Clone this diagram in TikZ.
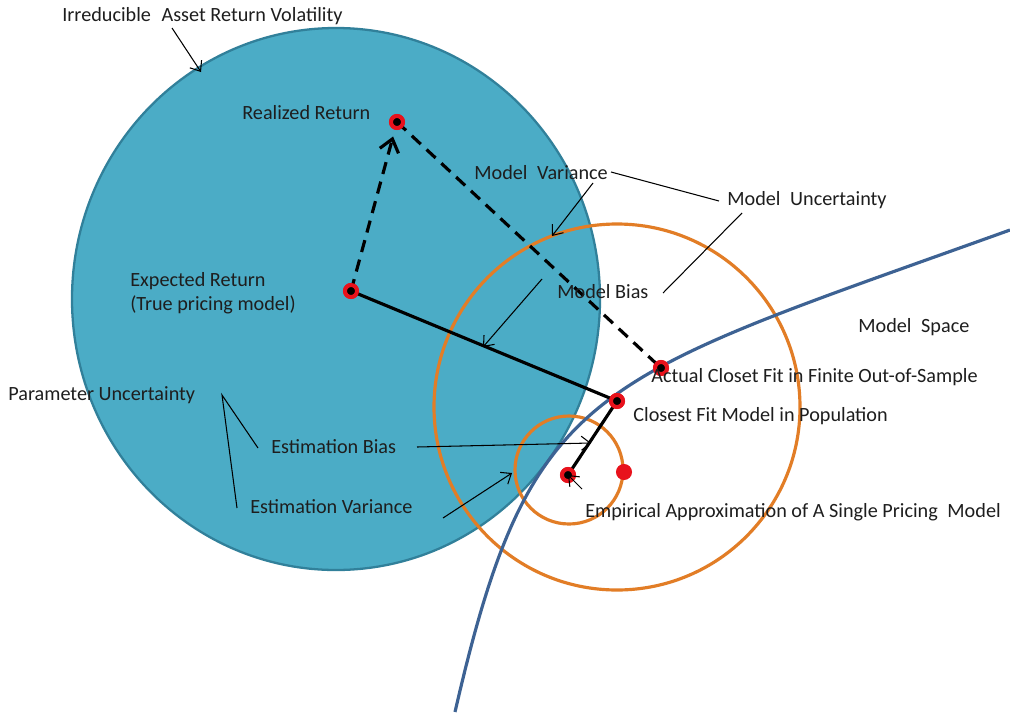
\documentclass[tikz,border=0pt]{standalone}
\usepackage{fontspec}
\setmainfont{Carlito}
\usetikzlibrary{arrows.meta}
\definecolor{aqua}{HTML}{4BACC6}
\definecolor{aquaedge}{HTML}{31809A}
\definecolor{ringorange}{HTML}{E27D26}
\definecolor{spaceblue}{HTML}{3D6293}
\definecolor{dotred}{HTML}{E8121C}
\definecolor{inktext}{HTML}{1E1E1E}
\tikzset{
  lbl/.style={font=\fontsize{11.5}{13.7}\selectfont, anchor=west, inner sep=0pt, text=inktext},
  dotpt/.style={circle, inner sep=0pt, minimum size=0.24cm, fill=black, draw=dotred, line width=0.08cm},
  reddot/.style={dotpt, fill=dotred},
  annot/.style={draw=black, line width=0.6pt},
  annotarrow/.style={annot, -{Straight Barb[length=5pt,width=8pt]}},
  heavy/.style={draw=black, line width=1.8pt},
  heavydash/.style={heavy, dash pattern=on 7pt off 4.5pt},
  ringline/.style={draw=ringorange, line width=1.8pt},
}
\begin{document}
\begin{tikzpicture}[x=0.02cm,y=-0.02cm]
\useasboundingbox (0,0) rectangle (1010,717);
\fill[white] (0,0) rectangle (1010,717);

% irreducible volatility region
\filldraw[fill=aqua, draw=aquaedge, line width=1.3pt] (336,299) ellipse [x radius=264, y radius=271];

% model variance and estimation rings
\draw[ringline] (617,407) circle [radius=183];
\draw[ringline] (569,470) circle [radius=54];

% model space frontier
\draw[spaceblue, line width=1.8pt] (455,712) .. controls (531,382) and (590,381) .. (1010,230);

% points
\node[dotpt] (R) at (397,122) {};
\node[dotpt] (E) at (351,291) {};
\node[dotpt] (C) at (617,401) {};
\node[dotpt] (A) at (661,368) {};
\node[dotpt] (P) at (568,475) {};
\node[reddot] (Q) at (624,472) {};

% heavy connectors
\draw[heavydash, -{Straight Barb[length=7pt,width=11pt]}, shorten >=0.3cm] (E.center) -- (R.center);
\draw[heavydash] (R.center) -- (A.center);
\draw[heavy] (E.center) -- (C.center);
\draw[heavy] (C.center) -- (P.center);
\node[dotpt] at (R) {};
\node[dotpt] at (E) {};
\node[dotpt] at (C) {};
\node[dotpt] at (A) {};
\node[dotpt] at (P) {};

% labels
\node[lbl] (irr) at (62,16) {Irreducible\hspace{.3em} Asset Return Volatility};
\node[lbl] (real) at (242,113) {Realized Return};
\node[lbl, align=left, anchor=north west] (exp) at (130,272) {Expected Return\\(True pricing model)};
\node[lbl] (mvar) at (474,173) {Model\hspace{.25em} Variance};
\node[lbl] (munc) at (727,200) {Model\hspace{.25em} Uncertainty};
\node[lbl] (mbias) at (557,292) {Model Bias};
\node[lbl] (mspace) at (858,327) {Model\hspace{.25em} Space};
\node[lbl] (act) at (651,377) {Actual Closet Fit in Finite Out-of-Sample};
\node[lbl] (clo) at (633,416) {Closest Fit Model in Population};
\node[lbl] (emp) at (585,512) {Empirical Approximation of A Single Pricing\hspace{.25em} Model};
\node[lbl] (par) at (8,395) {Parameter Uncertainty};
\node[lbl] (ebias) at (271,447) {Estimation Bias};
\node[lbl] (evar) at (250,507) {Estimation Variance};

% annotation connectors
\coordinate (irrS) at (172,28);
\coordinate (irrT) at (201,72);
\draw[annotarrow] (irrS) -- (irrT);

\coordinate (mvarS) at (593,183);
\coordinate (mvarT) at (552,236);
\draw[annotarrow] (mvarS) -- (mvarT);
\coordinate (mvarR) at (611,172);
\coordinate (muncL) at (719,201);
\draw[annot] (mvarR) -- (muncL);

\coordinate (muncS) at (742,213);
\coordinate (muncE) at (663,293);
\draw[annot] (muncS) -- (muncE);

\coordinate (mbiasS) at (542,279);
\coordinate (mbiasT) at (483,347);
\draw[annotarrow] (mbiasS) -- (mbiasT);

\coordinate (parF) at (222,395);
\coordinate (ebiasL) at (258,448);
\coordinate (evarL) at (237,508);
\draw[annot] (ebiasL) -- (parF) -- (evarL);

\coordinate (ebiasS) at (417,447);
\coordinate (ebiasT) at (591,443);
\draw[annotarrow] (ebiasS) -- (ebiasT);

\coordinate (evarS) at (443,518);
\coordinate (evarT) at (512,473);
\draw[annotarrow] (evarS) -- (evarT);

\coordinate (empS) at (582,489);
\draw[annotarrow] (empS) -- (P.center);
\end{tikzpicture}
\end{document}
